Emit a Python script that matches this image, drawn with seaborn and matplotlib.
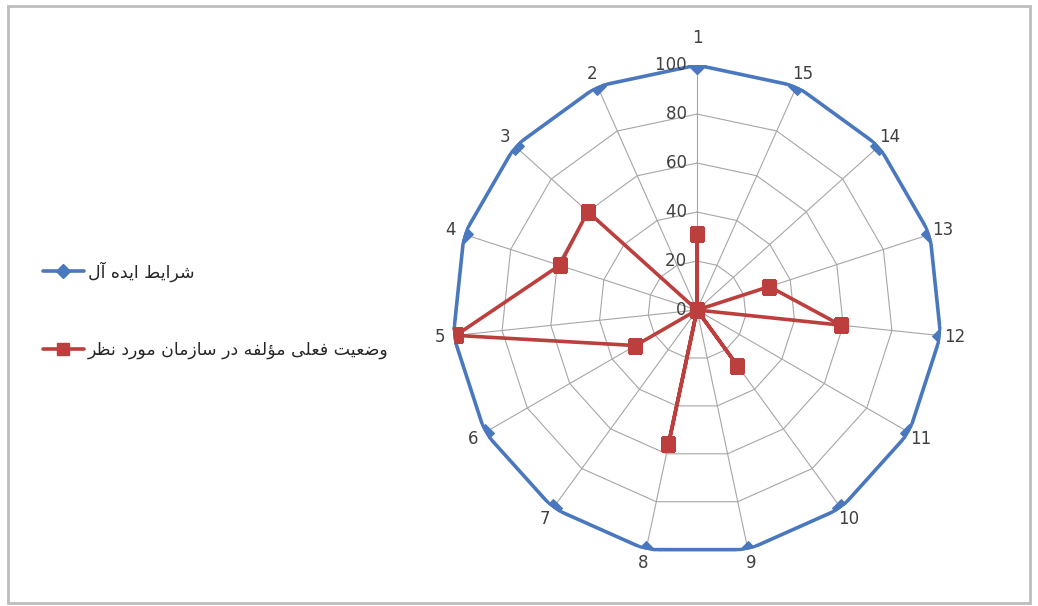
import numpy as np
import matplotlib
matplotlib.use("Agg")
import matplotlib.pyplot as plt
import seaborn as sns
from matplotlib.lines import Line2D
from matplotlib.patches import Rectangle

# ---- data ----
categories = [str(i) for i in range(1, 16)]
ideal = [100] * 15
current = [31, 0, 60, 59, 99, 29, 0, 56, 0, 28, 0, 59, 31, 0, 0]
r_ticks = [0, 20, 40, 60, 80, 100]
label_ideal = "شرایط ایده آل"
label_current = "وضعیت فعلی مؤلفه در سازمان مورد نظر"

# ---- minimal Arabic/Persian shaping (matplotlib has no complex text layout) ----
FORMS = {  # isolated, final, initial, medial
    'ا': ('\uFE8D', '\uFE8E', None, None), 'آ': ('\uFE81', '\uFE82', None, None),
    'د': ('\uFEA9', '\uFEAA', None, None), 'ر': ('\uFEAD', '\uFEAE', None, None),
    'ز': ('\uFEAF', '\uFEB0', None, None), 'و': ('\uFEED', '\uFEEE', None, None),
    'ؤ': ('\uFE85', '\uFE86', None, None),
    'ت': ('\uFE95', '\uFE96', '\uFE97', '\uFE98'), 'س': ('\uFEB1', '\uFEB2', '\uFEB3', '\uFEB4'),
    'ش': ('\uFEB5', '\uFEB6', '\uFEB7', '\uFEB8'), 'ض': ('\uFEBD', '\uFEBE', '\uFEBF', '\uFEC0'),
    'ط': ('\uFEC1', '\uFEC2', '\uFEC3', '\uFEC4'), 'ظ': ('\uFEC5', '\uFEC6', '\uFEC7', '\uFEC8'),
    'ع': ('\uFEC9', '\uFECA', '\uFECB', '\uFECC'), 'ف': ('\uFED1', '\uFED2', '\uFED3', '\uFED4'),
    'ل': ('\uFEDD', '\uFEDE', '\uFEDF', '\uFEE0'), 'م': ('\uFEE1', '\uFEE2', '\uFEE3', '\uFEE4'),
    'ن': ('\uFEE5', '\uFEE6', '\uFEE7', '\uFEE8'), 'ه': ('\uFEE9', '\uFEEA', '\uFEEB', '\uFEEC'),
    'ی': ('\uFEEF', '\uFEF0', '\uFEF3', '\uFEF4'),
}


def shape(text):
    out = []
    n = len(text)
    for i, ch in enumerate(text):
        if ch not in FORMS:
            out.append(ch)
            continue
        f = FORMS[ch]
        prev = text[i - 1] if i > 0 else ''
        nxt = text[i + 1] if i < n - 1 else ''
        prev_joins = prev in FORMS and FORMS[prev][2] is not None
        next_letter = nxt in FORMS
        dual = f[2] is not None
        if prev_joins and dual and next_letter:
            out.append(f[3])
        elif prev_joins:
            out.append(f[1])
        elif dual and next_letter:
            out.append(f[2])
        else:
            out.append(f[0])
    return ''.join(out)[::-1]


sns.set_theme(style="white")
plt.rcParams['font.family'] = ['DejaVu Sans']

fig = plt.figure(figsize=(10.38, 6.06), dpi=100)
fig.patch.set_facecolor('white')
fig.patches.append(Rectangle((0.008, 0.005), 0.984, 0.985, transform=fig.transFigure,
                             fill=False, edgecolor='#BDBDBD', linewidth=2.0, zorder=0))

ax = fig.add_axes([0.4355, 0.0841, 0.472, 0.8086], projection='polar')
ax.set_theta_zero_location('N')
ax.set_theta_direction(1)

N = len(categories)
theta = np.linspace(0, 2 * np.pi, N, endpoint=False)
theta_c = np.append(theta, 2 * np.pi)

# polygon grid rings
for r in r_ticks[1:]:
    ax.plot(theta_c, [r] * (N + 1), color='#A6A6A6', linewidth=0.8, zorder=1)
ax.yaxis.grid(False)
ax.xaxis.grid(True, color='#A6A6A6', linewidth=0.8)
ax.set_ylim(0, 100)
ax.set_yticks(r_ticks)
ax.set_yticklabels([])
ax.spines['polar'].set_visible(False)
ax.set_facecolor('none')

ideal_c = ideal + ideal[:1]
current_c = current + current[:1]
blue = '#4A78BE'
red = '#BC3F3D'
sns.lineplot(x=theta_c, y=ideal_c, ax=ax, color=blue, linewidth=2.6, marker='D',
             markersize=9, markeredgecolor=blue, sort=False, zorder=3)
sns.lineplot(x=theta_c, y=current_c, ax=ax, color=red, linewidth=2.6, marker='s',
             markersize=10, markeredgecolor=red, sort=False, zorder=4)

ax.set_xticks(theta)
ax.set_xticklabels([''] + categories[1:], fontsize=12, color='#404040')
ax.tick_params(axis='x', pad=-3)
# top category label sits higher, above the "100" tick label
ax.text(theta[0], 111, categories[0], ha='center', va='center', fontsize=12, color='#404040')

for r in r_ticks:
    ax.text(0, r, str(r) + '  ', ha='right', va='center', fontsize=12, color='#404040', zorder=5)

handles = [Line2D([], [], color=blue, linewidth=2.6, marker='D', markersize=7),
           Line2D([], [], color=red, linewidth=2.6, marker='s', markersize=9)]
fig.legend(handles, [shape(label_ideal), shape(label_current)], loc='upper left',
           bbox_to_anchor=(0.026, 0.595), frameon=False, fontsize=12.5,
           labelspacing=3.4, handlelength=2.4, handletextpad=0.2)

fig.savefig('out.png', dpi=100, facecolor='white')
